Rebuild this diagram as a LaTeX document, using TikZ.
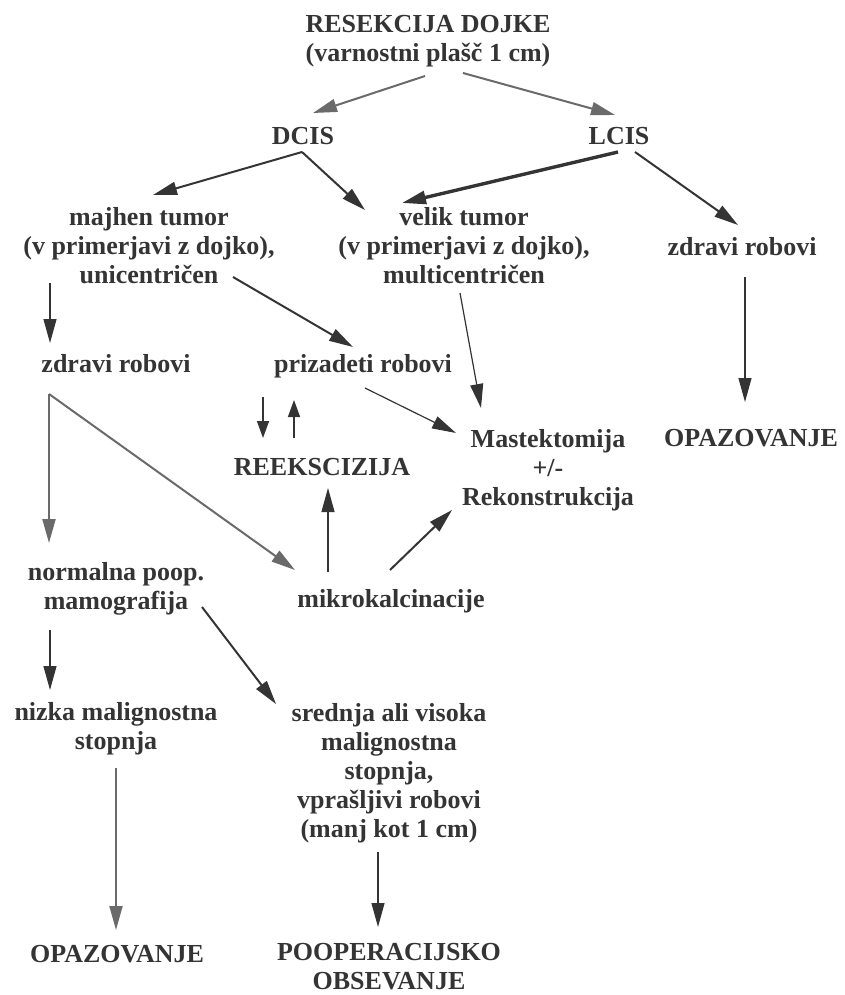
\documentclass[tikz,border=0pt]{standalone}
\usepackage{fontspec}
\setmainfont{Liberation Serif}
\usetikzlibrary{arrows.meta,calc}
\definecolor{ink}{HTML}{343434}
\definecolor{greyink}{HTML}{6A6A6A}
\begin{document}
\begin{tikzpicture}[x=1pt,y=-1pt,>={Triangle[length=24pt,width=13pt]}]
	\def \colleft{116}
	\def \colmid{389}
	\tikzstyle{t-node}=[align=center,inner sep=0pt,text=ink,font=\fontsize{26}{29}\selectfont\bfseries]
	\tikzstyle{a-dark}=[->,draw=ink,line width=2pt]
	\tikzstyle{a-thin}=[->,draw=ink,line width=1.2pt]
	\tikzstyle{a-bold}=[->,draw=ink,line width=3.4pt]
	\tikzstyle{a-grey}=[->,draw=greyink,line width=2pt]
	\tikzstyle{a-short}=[-{Triangle[length=17pt,width=12pt]},draw=ink,line width=1.5pt]
	\useasboundingbox (0,0) rectangle (845,995);

	% first levels
	\node[t-node] (res)    at (428,41.6)  {RESEKCIJA DOJKE\\(varnostni plašč 1 cm)};
	\node[t-node] (dcis)   at (303,136.5) {DCIS};
	\node[t-node] (lcis)   at (619,136.5) {LCIS};
	\node[t-node] (mali)   at (149,245.2) {majhen tumor\\(v primerjavi z dojko),\\unicentričen};
	\node[t-node] (veliki) at (464,245.2) {velik tumor\\(v primerjavi z dojko),\\multicentričen};
	\node[t-node] (zdr2)   at (742,246.2) {zdravi robovi};

	% margins
	\node[t-node] (zdr1)   at (\colleft,363.2) {zdravi robovi};
	\node[t-node] (priz)   at (363,365.9) {prizadeti robovi};
	\node[t-node] (reeks)  at (322,467.4) {REEKSCIZIJA};
	\node[t-node] (mast)   at (548,469.9) {Mastektomija\\+/-\\Rekonstrukcija};
	\node[t-node] (opaz1)  at (751,438.4) {OPAZOVANJE};

	% after surgery
	\node[t-node] (norm)   at (\colleft,588.4) {normalna poop.\\mamografija};
	\node[t-node] (mikro)  at (391,601)   {mikrokalcinacije};
	\node[t-node] (nizka)  at (\colleft,728.4) {nizka malignostna\\stopnja};
	\node[t-node] (sred)   at (\colmid,772.9) {srednja ali visoka\\malignostna\\stopnja,\\vprašljivi robovi\\(manj kot 1 cm)};
	\node[t-node] (opaz2)  at (117,954.4) {OPAZOVANJE};
	\node[t-node] (poop)   at (\colmid,966.4) {POOPERACIJSKO\\OBSEVANJE};

	\path
		($(res)+(-3,34.4)$)    edge[a-grey]  ($(dcis)+(10,-23.5)$)
		($(res)+(35,31.4)$)    edge[a-grey]  ($(lcis)+(-4,-21.5)$)
		%
		($(dcis)+(-1,15.5)$)   edge[a-dark]  ($(mali)+(4,-50.2)$)
		($(dcis)+(-1,15.5)$)   edge[a-dark]  ($(veliki)+(-99,-35.2)$)
		($(lcis)+(-1,15.5)$)   edge[a-bold]  ($(veliki)+(-62,-42.2)$)
		($(lcis)+(16,15.5)$)   edge[a-dark]  ($(zdr2)+(-4,-21.2)$)
		%
		($(mali)+(-99,37.8)$)  edge[a-thin]  ($(zdr1)+(-66,-20.2)$)
		($(mali)+(84,31.8)$)   edge[a-dark]  ($(priz)+(-10,-18.9)$)
		($(veliki)+(-4,47.8)$) edge[a-thin]  ($(mast)+(-67,-61.9)$)
		($(zdr2)+(3,30.8)$)    edge[a-thin]  ($(opaz1)+(-6,-36.4)$)
		%
		($(priz)+(-100,31.1)$) edge[a-short] ($(reeks)+(-59,-29.4)$)
		($(reeks)+(-28,-29.4)$) edge[a-short] ($(priz)+(-69,34.1)$)
		($(priz)+(2,22.1)$)    edge[a-thin]  ($(mast)+(-92,-36.9)$)
		%
		($(zdr1)+(-67,30.8)$)  edge[a-grey]  ($(norm)+(-67,-45.4)$)
		($(zdr1)+(-67,30.8)$)  edge[a-grey]  ($(mikro)+(-96,-31)$)
		($(mikro)+(-63,-29)$)  edge[a-thin]  ($(reeks)+(6,20.6)$)
		($(mikro)+(-1,-31)$)   edge[a-dark]  ($(mast)+(-96,40.1)$)
		%
		($(norm)+(-66,41.6)$)  edge[a-thin]  ($(nizka)+(-66,-38.4)$)
		($(norm)+(86,18.6)$)   edge[a-dark]  ($(sred)+(-113,-68.9)$)
		($(nizka)+(0,39.6)$)   edge[a-grey]  ($(opaz2)+(-1,-24.4)$)
		($(sred)+(-11,79.1)$)  edge[a-thin]  ($(poop)+(-11,-39.4)$);

\end{tikzpicture}
\end{document}
